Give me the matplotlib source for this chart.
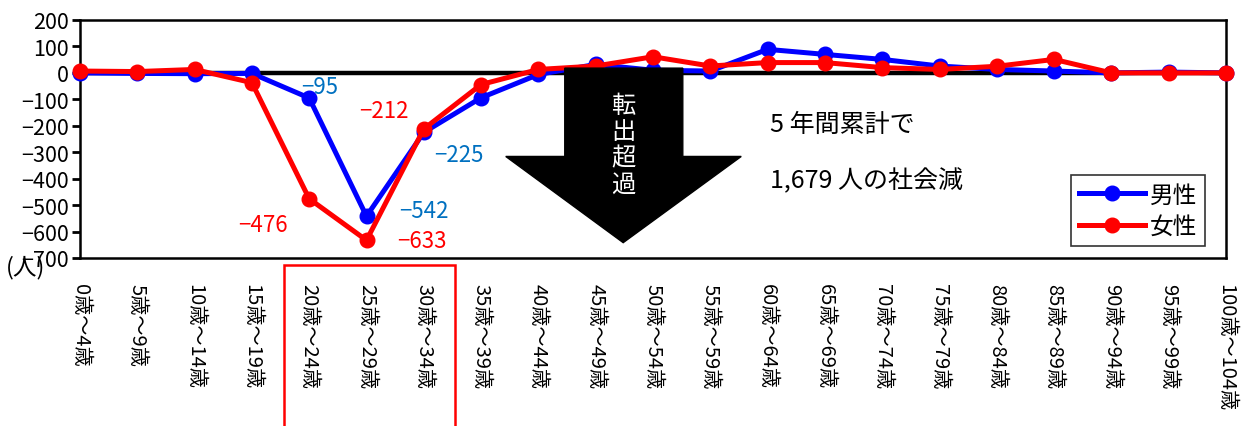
"""
Net migration by age group (5-year total), male vs female.
"""
import matplotlib
matplotlib.use("Agg")
import matplotlib.pyplot as plt
from matplotlib.patches import Polygon, Rectangle

plt.rcParams["font.family"] = ["Noto Sans CJK JP", "DejaVu Sans"]

# ── data ─────────────────────────────────────────────────────────────
age_groups = [f"{a}歳～{a + 4}歳" for a in range(0, 105, 5)]
male = [0, -2, -3, -2, -95, -542, -225, -94, -6, 32, 10, 7, 89, 70, 51,
        26, 13, 7, 0, 3, 0]
female = [7, 5, 13, -37, -476, -633, -212, -44, 13, 26, 61, 26, 39, 39, 20,
          13, 25, 51, 0, 0, 0]
y_ticks = [200, 100, 0, -100, -200, -300, -400, -500, -600, -700]

# labelled points: (index, value, x offset px, y offset px)
male_labels = [(4, -95, 10, 12), (5, -542, 57, 6), (6, -225, 35, -22)]
female_labels = [(4, -476, -46, -26), (5, -633, 55, 0), (6, -212, -40, 18)]

BLUE = "#0000FF"
RED = "#FF0000"
LABEL_BLUE = "#0070C0"

fig = plt.figure(figsize=(12.44, 4.27), dpi=100)
ax = fig.add_axes([80 / 1244, 1 - 259 / 427, 1146 / 1244, 238 / 427])

xs = list(range(len(age_groups)))
ax.axhline(0, color="black", linewidth=3.2, zorder=2)
ax.plot(xs, male, color=BLUE, marker="o", markersize=10.5, linewidth=3.6,
        label="男性", zorder=3, clip_on=False)
ax.plot(xs, female, color=RED, marker="o", markersize=10.5, linewidth=3.6,
        label="女性", zorder=4, clip_on=False)

for i, v, dx, dy in male_labels:
    ax.annotate(f"−{abs(v)}", (i, v), xytext=(dx, dy), textcoords="offset pixels",
                ha="center", va="center", color=LABEL_BLUE, fontsize=16)
for i, v, dx, dy in female_labels:
    ax.annotate(f"−{abs(v)}", (i, v), xytext=(dx, dy), textcoords="offset pixels",
                ha="center", va="center", color=RED, fontsize=16)

ax.set_xlim(0, len(age_groups) - 1)
ax.set_ylim(-700, 200)
ax.set_yticks(y_ticks)
ax.set_yticklabels([str(t).replace("-", "−") for t in y_ticks], fontsize=15.5)
ax.set_xticks(xs)
ax.set_xticklabels(age_groups, rotation=270, fontsize=14.5, va="top", ha="center")
ax.tick_params(axis="x", length=0, pad=18)
ax.tick_params(axis="y", length=6, width=2, direction="out", pad=2)
for s in ax.spines.values():
    s.set_linewidth(1.8)

# big "outflow" arrow drawn over the lines
arrow = Polygon([(8.46, 18), (10.52, 18), (10.52, -316), (11.54, -316),
                 (9.48, -642), (7.43, -316), (8.46, -316)],
                closed=True, facecolor="black", edgecolor="black", zorder=5)
ax.add_patch(arrow)
ax.text(9.48, -270, "転\n出\n超\n過", color="white", fontsize=17.5,
        ha="center", va="center", linespacing=1.0, zorder=6)

ax.text(12.04, -195, "5 年間累計で", fontsize=18, ha="left", va="center")
ax.text(12.04, -405, "1,679 人の社会減", fontsize=18, ha="left", va="center")

leg = ax.legend(loc="lower right", bbox_to_anchor=(0.982, 0.05), fontsize=17,
                frameon=True, fancybox=False, edgecolor="black",
                handlelength=2.8, borderpad=0.35, labelspacing=0.35,
                handletextpad=0.2, borderaxespad=0)
leg.get_frame().set_linewidth(1.2)

fig.text(6 / 1244, 1 - 268 / 427, "(人)", fontsize=17, ha="left", va="center")

# red box around the 20-34 age labels
fig.patches.append(Rectangle((284 / 1244, -0.1), 171 / 1244, 0.1 + (427 - 266) / 427,
                             transform=fig.transFigure, fill=False,
                             edgecolor=RED, linewidth=1.8))

fig.savefig("out.png", dpi=100)
